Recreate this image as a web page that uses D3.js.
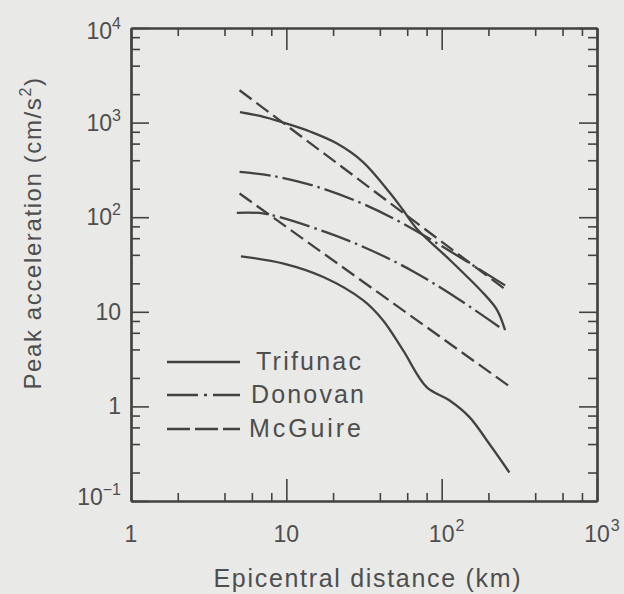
<!DOCTYPE html>
<html>
<head>
<meta charset="utf-8">
<script src="https://cdn.jsdelivr.net/npm/d3@7"></script>
<style>
  html, body { margin: 0; padding: 0; background: #e9e9e7; }
  svg { display: block; }
  text { font-family: "Liberation Sans", Arial, sans-serif; fill: #4e4e4e; }
</style>
</head>
<body>
<svg id="chart" width="624" height="594"></svg>
<script>
// ---- data ----
const xMajorTicks = [1, 10, 100, 1000];
const xMinorTicks = [2, 4, 6, 8, 20, 40, 60, 80, 200, 400, 600, 800];
const yMajorTicks = [0.1, 1, 10, 100, 1000, 10000];
const yMinorTicks = [0.2, 0.4, 0.6, 0.8, 2, 4, 6, 8, 20, 40, 60, 80, 200, 400, 600, 800, 2000, 4000, 6000, 8000];
const xTickLabels = [["1", ""], ["10", ""], ["10", "2"], ["10", "3"]];
const yTickLabels = [["10", "\u22121"], ["1", ""], ["10", ""], ["10", "2"], ["10", "3"], ["10", "4"]];

const trifunacUpperX = [5.03, 6.77, 9.52, 14.2, 21.2, 31.2, 46.5, 56.4, 69.4, 113, 185, 227, 256];
const trifunacUpperY = [1294, 1175, 1002, 805, 601, 383, 180, 119, 75, 35.3, 15.8, 10.5, 6.4];
const trifunacLowerX = [5.1, 9.6, 17.3, 31.3, 42, 56.5, 80, 112, 151, 203, 273];
const trifunacLowerY = [38.6, 32.3, 23.3, 13.2, 8.1, 3.9, 1.6, 1.16, 0.77, 0.40, 0.2];
const donovanUpperX = [5, 8.3, 15.3, 30, 54, 98, 266];
const donovanUpperY = [301, 272, 213, 142, 89, 50.6, 18.3];
const donovanLowerX = [4.8, 7.2, 17.8, 35, 66.5, 125, 235];
const donovanLowerY = [111, 109, 70, 44.8, 26.4, 14, 6.9];
const mcguireUpperX = [5, 266];
const mcguireUpperY = [2200, 16.5];
const mcguireLowerX = [5, 273];
const mcguireLowerY = [178, 1.63];

const legendNames = ["Trifunac", "Donovan", "McGuire"];

// ---- layout ----
const svg = d3.select("#chart");
const L = 131, R = 597, T = 28, B = 501;
const ink = "#424242";

const x = d3.scaleLog().domain([1, 1000]).range([L, R]);
const y = d3.scaleLog().domain([0.1, 10000]).range([B, T]);

// axes (ticks inward on all four sides)
function styleAxis(g) {
  g.select(".domain").attr("stroke", ink).attr("stroke-width", 2.2);
  g.selectAll(".tick line").attr("stroke", ink).attr("stroke-width", 1.6);
  g.selectAll(".tick text").remove();
}
const axes = [
  [d3.axisBottom, x, `translate(0,${B})`, 22, 8],
  [d3.axisTop, x, `translate(0,${T})`, 22, 8],
  [d3.axisLeft, y, `translate(${L},0)`, 18, 9],
  [d3.axisRight, y, `translate(${R},0)`, 18, 9]
];
axes.forEach(([fn, sc, tr, majLen, minLen], i) => {
  const isX = i < 2;
  svg.append("g").attr("transform", tr)
    .call(fn(sc).tickValues(isX ? xMinorTicks : yMinorTicks).tickSize(-minLen).tickSizeOuter(0).tickFormat(""))
    .call(styleAxis);
  svg.append("g").attr("transform", tr)
    .call(fn(sc).tickValues(isX ? xMajorTicks : yMajorTicks).tickSize(-majLen).tickSizeOuter(0).tickFormat(""))
    .call(styleAxis);
});

// tick labels
const fs = 23, sfs = 16;
yMajorTicks.forEach((v, i) => {
  const [base, sup] = yTickLabels[i];
  let yy = y(v);
  if (i === yMajorTicks.length - 1) yy += 3;
  if (i === 0) yy -= 4;
  const t = svg.append("text")
    .attr("x", 121).attr("y", yy + 8)
    .attr("text-anchor", "end")
    .style("font-size", fs + "px");
  t.append("tspan").text(base);
  if (sup) t.append("tspan").attr("dy", -10).style("font-size", sfs + "px").text(sup);
});
xMajorTicks.forEach((v, i) => {
  const [base, sup] = xTickLabels[i];
  const cx = x(v);
  svg.append("text")
    .attr("x", cx).attr("y", 542)
    .attr("text-anchor", "middle")
    .style("font-size", fs + "px")
    .text(base);
  if (sup) {
    const w = base.length * 0.556 * fs;
    svg.append("text")
      .attr("x", cx + w / 2 + 1).attr("y", 531)
      .style("font-size", sfs + "px")
      .text(sup);
  }
});

// axis titles
svg.append("text")
  .attr("x", 367).attr("y", 587)
  .attr("text-anchor", "middle")
  .style("font-size", "25px")
  .attr("textLength", 307).attr("lengthAdjust", "spacing")
  .text("Epicentral distance (km)");

const yt = svg.append("text")
  .attr("transform", "translate(41,233) rotate(-90)")
  .attr("text-anchor", "middle")
  .style("font-size", "24px")
  .style("letter-spacing", "1.6px");
yt.append("tspan").text("Peak acceleration (cm/s");
yt.append("tspan").attr("dy", -10).style("font-size", "16px").text("2");
yt.append("tspan").attr("dy", 10).text(")");

// curves
const line = d3.line()
  .x(d => x(d[0]))
  .y(d => y(d[1]))
  .curve(d3.curveCatmullRom.alpha(0.5));
const zip = (xs, ys) => xs.map((v, i) => [v, ys[i]]);

const dashDot = "31,5,2.5,5";
const dashed = "15,6";
const series = [
  [zip(trifunacUpperX, trifunacUpperY), null],
  [zip(trifunacLowerX, trifunacLowerY), null],
  [zip(donovanUpperX, donovanUpperY), dashDot],
  [zip(donovanLowerX, donovanLowerY), dashDot],
  [zip(mcguireUpperX, mcguireUpperY), dashed],
  [zip(mcguireLowerX, mcguireLowerY), dashed]
];
series.forEach(([pts, dash]) => {
  svg.append("path")
    .datum(pts)
    .attr("d", line)
    .attr("fill", "none")
    .attr("stroke", ink)
    .attr("stroke-width", 2.3)
    .attr("stroke-dasharray", dash);
});

// legend
const legendDash = [null, "31,6,3,6", "23,5"];
const legendRowY = [362, 395, 429];
const legendTextX = [256, 251, 249];
const legendTextW = [105, 113, 112];
legendNames.forEach((name, i) => {
  svg.append("line")
    .attr("x1", 167).attr("x2", 240)
    .attr("y1", legendRowY[i]).attr("y2", legendRowY[i])
    .attr("stroke", ink).attr("stroke-width", 2.4)
    .attr("stroke-dasharray", legendDash[i]);
  svg.append("text")
    .attr("x", legendTextX[i]).attr("y", legendRowY[i] + 8)
    .style("font-size", "25px")
    .attr("textLength", legendTextW[i]).attr("lengthAdjust", "spacing")
    .text(name);
});
</script>
</body>
</html>
